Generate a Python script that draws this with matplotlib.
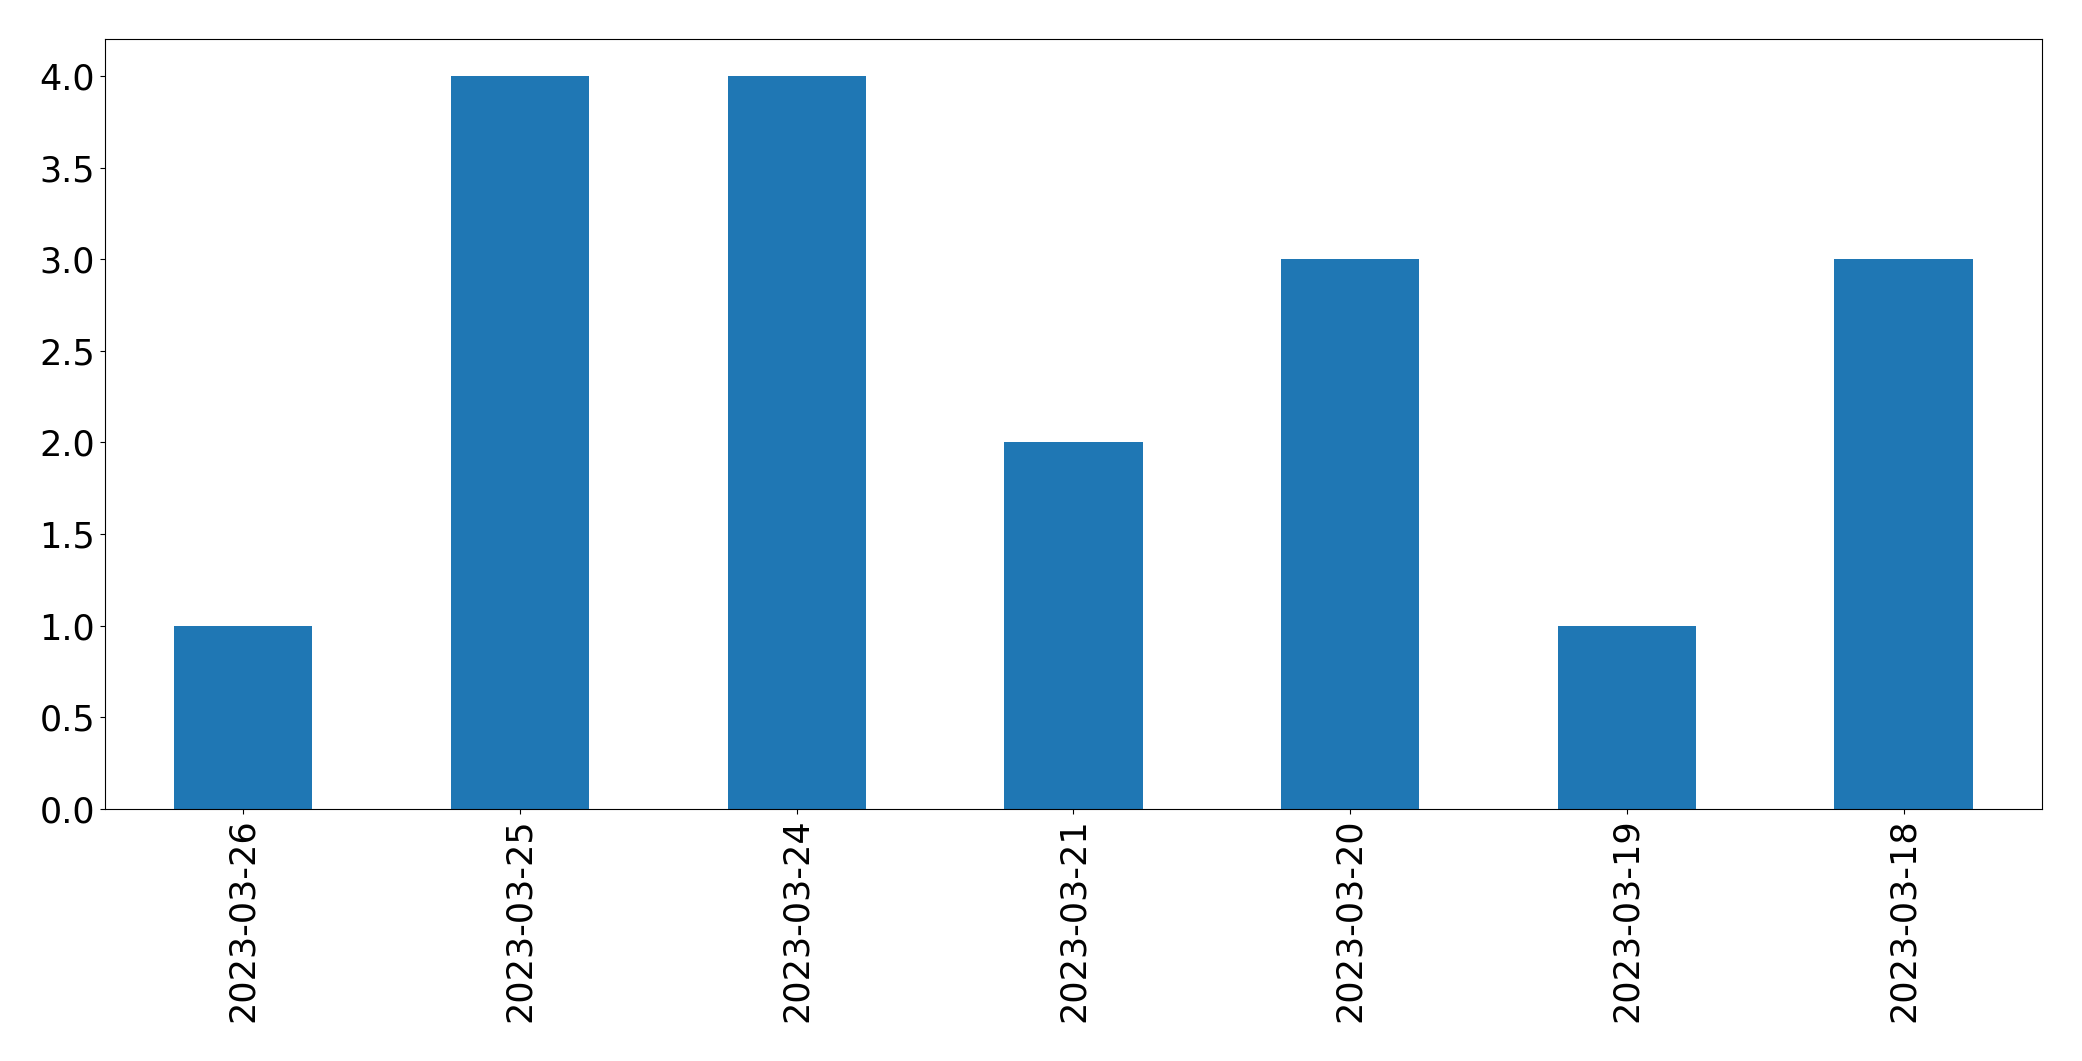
import pandas as pd
import matplotlib
matplotlib.use('Agg')
import matplotlib.pyplot as plt

# 날짜별 건수
dates = ['2023-03-26', '2023-03-25', '2023-03-24', '2023-03-21',
         '2023-03-20', '2023-03-19', '2023-03-18']
counts = [1, 4, 4, 2, 3, 1, 3]

s = pd.Series(counts, index=dates)

plt.rcParams['font.size'] = 25.2
fig, ax = plt.subplots(figsize=(20.82, 10.61), dpi=100)
s.plot(kind='bar', ax=ax, color='#1f77b4')
fig.subplots_adjust(left=0.0504, right=0.9808, top=0.963, bottom=0.2375)
fig.savefig('out.png', dpi=100)
